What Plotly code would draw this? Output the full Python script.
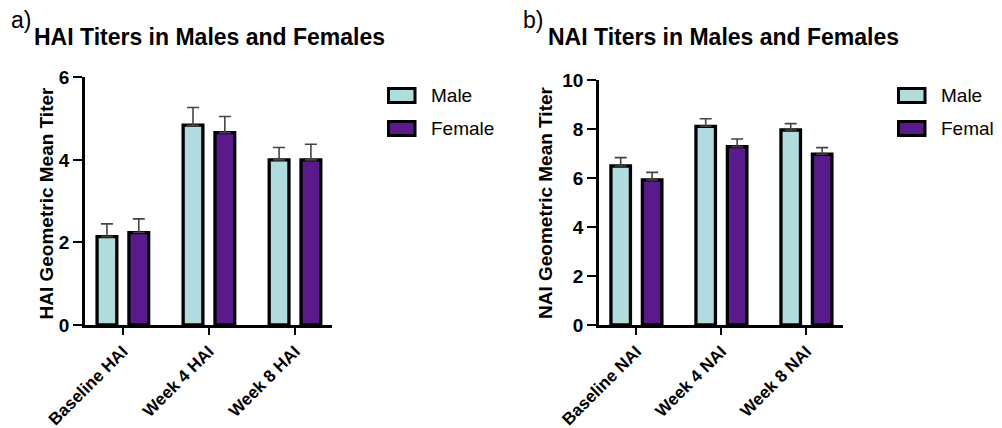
import plotly.graph_objects as go

W, H = 1002, 428
# the page body adds an 8px offset; positions below are screen pixels
OFF = 8

hai_categories = ["Baseline HAI", "Week 4 HAI", "Week 8 HAI"]
hai_male = [2.14, 4.84, 4.00]
hai_male_err = [0.31, 0.43, 0.30]
hai_female = [2.24, 4.66, 4.00]
hai_female_err = [0.33, 0.39, 0.38]

nai_categories = ["Baseline NAI", "Week 4 NAI", "Week 8 NAI"]
nai_male = [6.49, 8.11, 7.96]
nai_male_err = [0.34, 0.31, 0.26]
nai_female = [5.92, 7.28, 6.97]
nai_female_err = [0.31, 0.31, 0.27]

hai_yticks = [0, 2, 4, 6]
nai_yticks = [0, 2, 4, 6, 8, 10]

MALE_COLOR = "#B0DCDD"
FEMALE_COLOR = "#5B1A8B"
FONT = "Arial, Liberation Sans, Helvetica, sans-serif"


def px(x):
    return (x - OFF) / W


def py(y):
    return (H - (y - OFF)) / H


fig = go.Figure()


def add_bars(cats, male, male_err, female, female_err, xa, ya):
    for name, vals, errs, color in [("Male", male, male_err, MALE_COLOR),
                                    ("Female", female, female_err, FEMALE_COLOR)]:
        fig.add_trace(go.Bar(
            x=cats, y=vals, name=name, xaxis=xa, yaxis=ya,
            marker=dict(color=color, line=dict(color="black", width=3.3)),
            error_y=dict(type="data", array=errs, arrayminus=[0] * len(errs),
                         symmetric=False, color="#444444", thickness=1.6, width=6),
            showlegend=False, offsetgroup=name,
        ))


add_bars(hai_categories, hai_male, hai_male_err, hai_female, hai_female_err, "x", "y")
add_bars(nai_categories, nai_male, nai_male_err, nai_female, nai_female_err, "x2", "y2")

axis_common = dict(
    showline=True, linecolor="black", linewidth=2.5,
    ticks="outside", tickcolor="black", tickwidth=2.2,
    showgrid=False, zeroline=False, automargin=False,
)
ytick_font = dict(family=FONT, size=19, color="black", weight="bold")
xtick_font = dict(family=FONT, size=17, color="black", weight="bold")

fig.update_layout(
    template="none",
    width=W, height=H,
    margin=dict(l=0, r=0, t=0, b=0, autoexpand=False),
    paper_bgcolor="white", plot_bgcolor="white",
    barmode="group", bargap=0.26, bargroupgap=0.38,
    showlegend=False,
    xaxis=dict(domain=[px(85), px(332)], anchor="y", range=[-0.44, 2.43],
               tickangle=-45, ticklen=7, tickfont=xtick_font, **axis_common),
    yaxis=dict(domain=[py(325), py(77.3)], anchor="x", range=[0, 6],
               tickvals=hai_yticks, ticklen=9, tickfont=ytick_font, **axis_common),
    xaxis2=dict(domain=[px(599), px(843)], anchor="y2", range=[-0.44, 2.43],
                tickangle=-45, ticklen=7, tickfont=xtick_font, **axis_common),
    yaxis2=dict(domain=[py(325), py(80)], anchor="x2", range=[0, 10],
                tickvals=nai_yticks, ticklen=9, tickfont=ytick_font, **axis_common),
)

annotations = [
    dict(text="a)", x=px(9), y=py(20), xanchor="left", yanchor="middle",
         font=dict(family=FONT, size=23, color="black")),
    dict(text="<b>HAI Titers in Males and Females</b>", x=px(32), y=py(37),
         xanchor="left", yanchor="middle", font=dict(family=FONT, size=23, color="black")),
    dict(text="b)", x=px(521), y=py(20), xanchor="left", yanchor="middle",
         font=dict(family=FONT, size=23, color="black")),
    dict(text="<b>NAI Titers in Males and Females</b>", x=px(546), y=py(37),
         xanchor="left", yanchor="middle", font=dict(family=FONT, size=23, color="black")),
    dict(text="<b>HAI Geometric Mean Titer</b>", x=px(45.5), y=py(203), textangle=-90,
         xanchor="center", yanchor="middle", font=dict(family=FONT, size=19, color="black")),
    dict(text="<b>NAI Geometric Mean Titer</b>", x=px(545), y=py(203), textangle=-90,
         xanchor="center", yanchor="middle", font=dict(family=FONT, size=19, color="black")),
]

shapes = []
for bx, tx in [(387, 429), (897, 939)]:
    for (y0, y1), label, color in [((87, 104), "Male", MALE_COLOR),
                                   ((120, 137), "Female", FEMALE_COLOR)]:
        shapes.append(dict(type="rect", xref="paper", yref="paper",
                           x0=px(bx + 1.5), x1=px(bx + 28), y0=py(y0 + 1.5), y1=py(y1 - 1.5),
                           fillcolor=color, line=dict(color="black", width=3)))
        annotations.append(dict(text=label, x=px(tx), y=py((y0 + y1) / 2),
                                xanchor="left", yanchor="middle",
                                font=dict(family=FONT, size=19, color="black")))

for a in annotations:
    a.update(xref="paper", yref="paper", showarrow=False)

fig.update_layout(annotations=annotations, shapes=shapes)

fig.write_html("out.html")
